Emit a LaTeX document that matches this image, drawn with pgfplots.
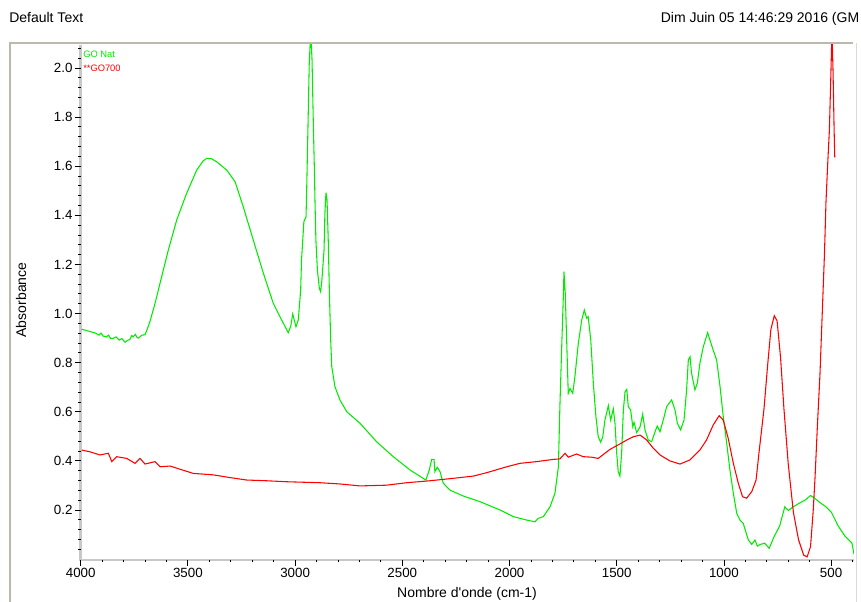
\documentclass[border=0pt]{standalone}
\usepackage{pgfplots}
\pgfplotsset{compat=1.18}
\usepackage{fontspec}
\setmainfont{Liberation Sans}
\definecolor{gonat}{RGB}{0,235,0}
\definecolor{goseven}{RGB}{255,0,0}
\definecolor{framec}{RGB}{188,184,172}
\definecolor{axisc}{RGB}{200,200,200}
\begin{document}
\begin{tikzpicture}
\begin{scope}[shift={(-60.525pt,420pt)},x=0.75pt,y=-0.75pt]
 \useasboundingbox (0,0) rectangle (861,602);
 \draw[framec, line width=1.5pt] (10.5,602) -- (10.5,43) -- (853,43);
 \draw[black!15, line width=0.75pt] (856,43) -- (856,602);
 \draw[axisc, line width=2.2pt] (80.7,45) -- (80.7,560) -- (854,560);
 \node[anchor=west, inner sep=0, font=\fontsize{10.5}{12}\selectfont] at (9,18) {Default Text};
 \node[anchor=east, inner sep=0, font=\fontsize{10.5}{12}\selectfont] at (859.5,19) {Dim Juin 05 14:46:29 2016 (GM};
 \node[rotate=90, inner sep=0, font=\fontsize{10.5}{12}\selectfont] at (21,300) {Absorbance};
 \node[inner sep=0, font=\fontsize{10.5}{12}\selectfont] at (467,594) {Nombre d\textquotesingle onde (cm-1)};
 \node[anchor=west, inner sep=0, text=gonat, font=\fontsize{7}{8}\selectfont] at (83,54) {GO Nat};
 \node[anchor=west, inner sep=0, text=goseven, font=\fontsize{7}{8}\selectfont] at (83,68.5) {**GO700};
\end{scope}
\begin{axis}[
 scale only axis, width=579.975pt, height=386.25pt,
 x dir=reverse, xmin=393.3, xmax=4000, ymin=-0.0036, ymax=2.0933,
 axis line style={draw=none},
 xtick pos=bottom, ytick pos=left,
 tick align=outside,
 major tick length=4.5pt, minor tick length=1.8pt,
 major tick style={black, line width=0.6pt},
 minor tick style={black, line width=0.6pt},
 xtick={500,1000,1500,2000,2500,3000,3500,4000},
 minor xtick={400,600,700,800,900,1100,1200,1300,1400,1600,1700,1800,1900,2100,2200,2300,2400,2600,2700,2800,2900,3100,3200,3300,3400,3600,3700,3800,3900},
 ytick={0.2,0.4,0.6,0.8,1.0,1.2,1.4,1.6,1.8,2.0},
 yticklabels={0.2,0.4,0.6,0.8,1.0,1.2,1.4,1.6,1.8,2.0},
 minor ytick={0.04,0.08,0.12,0.16,0.24,0.28,0.32,0.36,0.44,0.48,0.52,0.56,0.64,0.68,0.72,0.76,0.84,0.88,0.92,0.96,1.04,1.08,1.12,1.16,1.24,1.28,1.32,1.36,1.44,1.48,1.52,1.56,1.64,1.68,1.72,1.76,1.84,1.88,1.92,1.96,2.04,2.08},
 /pgf/number format/1000 sep={},
 /pgf/number format/assume math mode=true,
 ticklabel style={font=\fontsize{10}{12}\selectfont},
 xticklabel style={inner sep=1.5pt},
 yticklabel style={inner sep=1.5pt},
 clip=true,
]
\addplot[gonat, line width=0.8pt] coordinates {
(3995,0.936)(3970,0.930)(3950,0.925)(3930,0.920)(3915,0.912)(3905,0.920)(3895,0.908)(3880,0.905)(3870,0.912)(3860,0.898)(3848,0.899)
(3835,0.905)(3820,0.892)(3808,0.898)(3793,0.883)(3782,0.890)(3770,0.895)(3762,0.910)(3755,0.906)(3745,0.915)(3737,0.902)(3730,0.900)
(3715,0.912)(3700,0.913)(3690,0.935)(3677,0.967)(3653,1.042)(3630,1.123)(3591,1.259)(3552,1.381)(3506,1.489)(3459,1.584)(3430,1.620)
(3412,1.632)(3390,1.630)(3366,1.618)(3319,1.584)(3280,1.537)(3242,1.435)(3195,1.299)(3148,1.164)(3102,1.042)(3063,0.974)(3032,0.922)
(3020,0.950)(3011,0.998)(2996,0.946)(2985,0.974)(2974,1.096)(2970,1.218)(2959,1.374)(2949,1.394)(2946,1.503)(2939,1.801)(2934,2.019)
(2927,2.15)(2921,2.032)(2915,1.775)(2910,1.584)(2907,1.449)(2903,1.299)(2896,1.177)(2887,1.103)(2881,1.089)(2875,1.136)(2865,1.259)
(2861,1.408)(2856,1.492)(2851,1.462)(2845,1.286)(2840,1.082)(2834,0.892)(2829,0.783)(2814,0.702)(2791,0.648)(2759,0.600)(2697,0.553)
(2620,0.478)(2542,0.417)(2464,0.363)(2390,0.322)(2374,0.363)(2363,0.406)(2352,0.406)(2348,0.356)(2337,0.374)(2324,0.356)(2309,0.309)
(2278,0.281)(2216,0.257)(2138,0.234)(2044,0.200)(1982,0.173)(1920,0.159)(1881,0.152)(1866,0.166)(1842,0.173)(1811,0.213)(1788,0.268)
(1772,0.376)(1765,0.621)(1757,0.851)(1749,1.068)(1746,1.170)(1740,1.082)(1733,0.879)(1726,0.675)(1718,0.695)(1705,0.675)(1695,0.743)
(1679,0.879)(1663,0.974)(1651,1.014)(1640,0.981)(1633,0.987)(1621,0.892)(1609,0.716)(1597,0.580)(1586,0.498)(1575,0.476)(1565,0.498)
(1555,0.566)(1539,0.625)(1528,0.566)(1516,0.612)(1508,0.553)(1500,0.431)(1493,0.356)(1485,0.338)(1477,0.431)(1469,0.607)(1461,0.682)
(1453,0.691)(1446,0.621)(1435,0.607)(1425,0.539)(1419,0.557)(1407,0.515)(1391,0.539)(1379,0.590)(1368,0.526)(1353,0.485)(1337,0.478)
(1321,0.519)(1311,0.542)(1298,0.519)(1283,0.566)(1267,0.621)(1244,0.648)(1228,0.607)(1217,0.553)(1202,0.526)(1186,0.566)(1174,0.689)
(1166,0.811)(1158,0.824)(1151,0.757)(1135,0.689)(1124,0.716)(1112,0.797)(1096,0.865)(1076,0.922)(1065,0.892)(1050,0.851)(1034,0.811)
(1018,0.702)(1003,0.580)(987,0.472)(972,0.363)(956,0.268)(940,0.186)(925,0.159)(910,0.146)(894,0.100)(886,0.078)(870,0.060)(855,0.078)
(844,0.053)(829,0.060)(810,0.065)(789,0.044)(765,0.093)(740,0.135)(716,0.213)(700,0.198)(676,0.213)(652,0.226)(620,0.241)(596,0.259)
(580,0.250)(556,0.233)(524,0.213)(499,0.191)(467,0.135)(435,0.093)(403,0.065)(393,0.02)
};
\addplot[goseven, line width=0.8pt] coordinates {
(3995,0.444)(3957,0.437)(3910,0.424)(3871,0.431)(3855,0.397)(3832,0.417)(3785,0.410)(3747,0.390)(3723,0.410)(3700,0.387)(3653,0.397)
(3630,0.376)(3583,0.379)(3537,0.366)(3475,0.349)(3381,0.343)(3304,0.332)(3226,0.322)(3133,0.319)(3039,0.315)(2884,0.311)(2791,0.306)
(2697,0.298)(2573,0.301)(2480,0.311)(2371,0.319)(2262,0.329)(2169,0.338)(2106,0.352)(2013,0.376)(1951,0.390)(1873,0.397)(1796,0.406)
(1765,0.408)(1741,0.431)(1726,0.415)(1687,0.428)(1656,0.417)(1617,0.415)(1586,0.410)(1555,0.431)(1531,0.447)(1493,0.465)(1453,0.485)
(1423,0.498)(1391,0.505)(1360,0.485)(1329,0.451)(1298,0.424)(1252,0.400)(1205,0.387)(1158,0.404)(1112,0.444)(1081,0.485)(1050,0.546)
(1022,0.584)(1003,0.566)(980,0.492)(956,0.390)(933,0.309)(913,0.254)(894,0.248)(870,0.275)(850,0.322)(835,0.444)(813,0.612)(797,0.780)
(781,0.935)(765,0.991)(752,0.970)(736,0.823)(720,0.612)(700,0.388)(676,0.191)(652,0.079)(628,0.016)(612,0.009)(596,0.051)(584,0.191)
(575,0.332)(564,0.542)(552,0.752)(540,1.033)(531,1.243)(524,1.453)(516,1.608)(508,1.748)(502,1.944)(496,2.15)(491,1.986)(486,1.748)
(483,1.636)
};
\end{axis}
\end{tikzpicture}
\end{document}
